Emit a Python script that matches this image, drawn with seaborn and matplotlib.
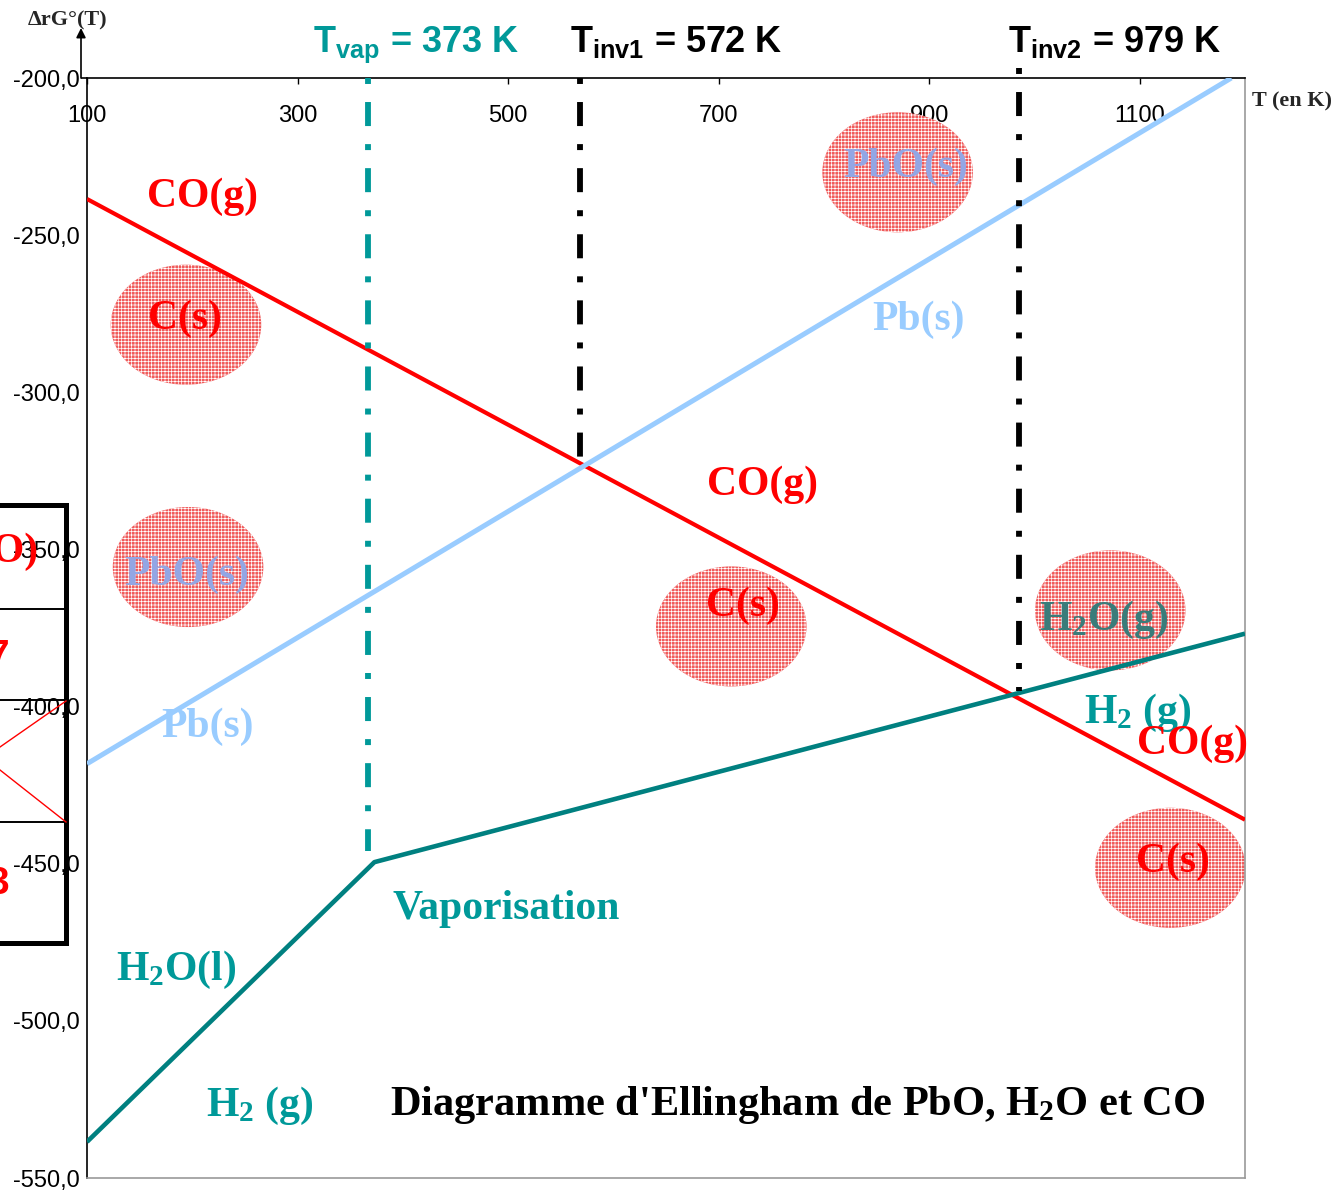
import numpy as np
import pandas as pd
import matplotlib
matplotlib.use("Agg")
import matplotlib.pyplot as plt
import seaborn as sns
from matplotlib.patches import Ellipse
from matplotlib.lines import Line2D
from matplotlib.ticker import FuncFormatter, FixedLocator

# ---------------- data ----------------
co_T = [100, 1200]
co_G = [-238.5, -436.0]
pb_T = [100, 1187]
pb_G = [-418.2, -200.0]
h2o_T = [100, 373, 1200]
h2o_G = [-538.5, -449.5, -376.8]

vline_T = [367, 568, 985]
vline_top = [-200.0, -200.0, -196.8]
vline_bottom = [-445.9, -322.3, -394.9]
vline_colors = ["#009999", "black", "black"]
vline_labels = [r"$\mathregular{T_{vap}}$ = 373 K", r"$\mathregular{T_{inv1}}$ = 572 K",
                r"$\mathregular{T_{inv2}}$ = 979 K"]
vline_label_x = [315, 559, 975]

ell_T = [194, 196, 870, 712, 1072, 1129]
ell_G = [-278.5, -355.6, -230.0, -374.5, -369.4, -451.3]
ell_w = 143
ell_h = 38.2

lab_text = ["CO(g)", "C(s)", "PbO(s)", "Pb(s)", "PbO(s)", "Pb(s)", "CO(g)", "C(s)",
            r"$\mathregular{H_2}$O(g)", r"$\mathregular{H_2}$ (g)", "CO(g)", "C(s)",
            "Vaporisation", r"$\mathregular{H_2}$O(l)", r"$\mathregular{H_2}$ (g)"]
lab_T = [210, 193, 195, 214, 878, 890, 742, 723, 1066, 1098, 1150, 1132, 498, 185, 264]
lab_G = [-237.8, -276.6, -358.0, -406.4, -228.2, -276.9, -329.4, -368.0,
         -372.4, -402.1, -411.8, -449.4, -464.5, -483.9, -527.2]
RED, BLUE, TEAL, PBO, H2OG = "#ff0000", "#99ccff", "#009999", "#93a6e4", "#3a7c7a"
lab_col = [RED, RED, PBO, BLUE, PBO, BLUE, RED, RED, H2OG, TEAL, RED, RED, TEAL, TEAL, TEAL]

x_ticks = [100, 300, 500, 700, 900, 1100]
y_ticks = [-550, -500, -450, -400, -350, -300, -250, -200]

title = r"Diagramme d'Ellingham de PbO, $\mathregular{H_2}$O et CO"

# ---------------- style ----------------
sns.set_theme(style="white")
plt.rcParams["font.family"] = ["Liberation Sans Narrow", "Liberation Sans", "DejaVu Sans"]
plt.rcParams["lines.scale_dashes"] = False
plt.rcParams["hatch.linewidth"] = 0.5
plt.rcParams["lines.solid_capstyle"] = "butt"

W, H = 1337, 1192
fig = plt.figure(figsize=(W / 100, H / 100), dpi=100)
ax = fig.add_axes([87 / W, 1 - 1178 / H, (1245 - 87) / W, (1178 - 78) / H])
ax.set_facecolor("white")

# lines
sns.lineplot(x=co_T, y=co_G, ax=ax, color=RED, linewidth=3.0, sort=False, zorder=3)
sns.lineplot(x=pb_T, y=pb_G, ax=ax, color=BLUE, linewidth=3.6, sort=False, zorder=3)
sns.lineplot(x=h2o_T, y=h2o_G, ax=ax, color="#008080", linewidth=3.3, sort=False, zorder=3)

for t, y0, y1, c in zip(vline_T, vline_top, vline_bottom, vline_colors):
    ax.plot([t, t], [y0, y1], color=c, linewidth=4.2, clip_on=False, zorder=3.5,
             dashes=(4.3, 13.0, 17.3, 13.0), dash_capstyle="butt", solid_capstyle="butt")

for t, lab, c in zip(vline_label_x, vline_labels, vline_colors):
    ax.text(t, -191.7, lab, color=c, fontsize=26, fontweight="bold",
            family=["Liberation Sans", "DejaVu Sans"], ha="left", va="baseline", clip_on=False)

# ellipses
for t, g in zip(ell_T, ell_G):
    e = Ellipse((t, g), ell_w, ell_h, facecolor="#f05a5a", edgecolor="white",
                linewidth=0, hatch="+++++", zorder=1.5)
    ax.add_patch(e)

# labels
for s, t, g, c in zip(lab_text, lab_T, lab_G, lab_col):
    ax.text(t, g, s, color=c, fontsize=30, fontweight="bold",
            family=["Liberation Serif", "DejaVu Serif"], ha="center", va="center", zorder=4)

ax.text(775, -526.8, title, color="black", fontsize=30.5, fontweight="bold",
        family=["Liberation Serif", "DejaVu Serif"], ha="center", va="center", zorder=4)

# axes
ax.set_xlim(100, 1200)
ax.set_ylim(-550, -200)
ax.xaxis.tick_top()
ax.xaxis.set_major_locator(FixedLocator(x_ticks))
ax.yaxis.set_major_locator(FixedLocator(y_ticks))
ax.yaxis.set_major_formatter(FuncFormatter(lambda v, p: f"{v:.1f}".replace(".", ",")))
ax.tick_params(axis="x", direction="in", length=4, width=1, color="black",
               labelsize=17, pad=-35, labelcolor="black")
ax.tick_params(axis="y", direction="out", length=5, width=1, color="black",
               labelsize=17, pad=0, labelcolor="black")
ax.set_xlabel("")
ax.set_ylabel("")
for side, col in [("top", "black"), ("left", "black"), ("right", "#999999"), ("bottom", "#999999")]:
    ax.spines[side].set_visible(True)
    ax.spines[side].set_color(col)
    ax.spines[side].set_linewidth(1.2)

# y-axis arrow and axis titles
fig.add_artist(Line2D([81 / W, 87 / W], [1 - 78 / H, 1 - 78 / H], color="black", lw=1.2))
ax.annotate("", xy=(81 / W, 1 - 28 / H), xytext=(81 / W, 1 - 78 / H),
            xycoords="figure fraction", textcoords="figure fraction",
            arrowprops=dict(arrowstyle="-|>", lw=1.2, color="black", mutation_scale=14,
                            shrinkA=0, shrinkB=0))
fig.text(68 / W, 1 - 20 / H, "ΔrG°(T)", fontsize=16, fontweight="bold",
         family=["Liberation Serif", "DejaVu Serif"], ha="center", va="center")
fig.text(1252 / W, 1 - 101 / H, "T (en K)", fontsize=16, fontweight="bold",
         family=["Liberation Serif", "DejaVu Serif"], ha="left", va="center")

# partially visible table on the left
def P(x, y):
    return x / W, 1 - y / H

def fline(x0, y0, x1, y1, c, lw):
    (a, b), (cc, d) = P(x0, y0), P(x1, y1)
    fig.add_artist(Line2D([a, cc], [b, d], color=c, lw=lw, solid_capstyle="projecting", zorder=5))

fline(0, 505, 66, 505, "black", 3.6)
fline(66, 505, 66, 943, "black", 3.6)
fline(0, 943, 66, 943, "black", 3.6)
for yy in [609, 700, 822]:
    fline(0, yy, 64, yy, "black", 1.4)
fline(0, 747, 66, 701, RED, 1.0)
fline(0, 770, 66, 822, RED, 1.0)
fig.text(*P(38, 552), "(CO)", color=RED, fontsize=30, fontweight="bold",
         family=["Liberation Serif"], ha="right", va="center", zorder=5)
fig.text(*P(9, 657), "7", color=RED, fontsize=28, fontweight="bold",
         family=["Liberation Sans"], ha="right", va="center", zorder=5)
fig.text(*P(9, 884), "3", color=RED, fontsize=28, fontweight="bold",
         family=["Liberation Sans"], ha="right", va="center", zorder=5)

fig.savefig("out.png", dpi=100, facecolor="white")
